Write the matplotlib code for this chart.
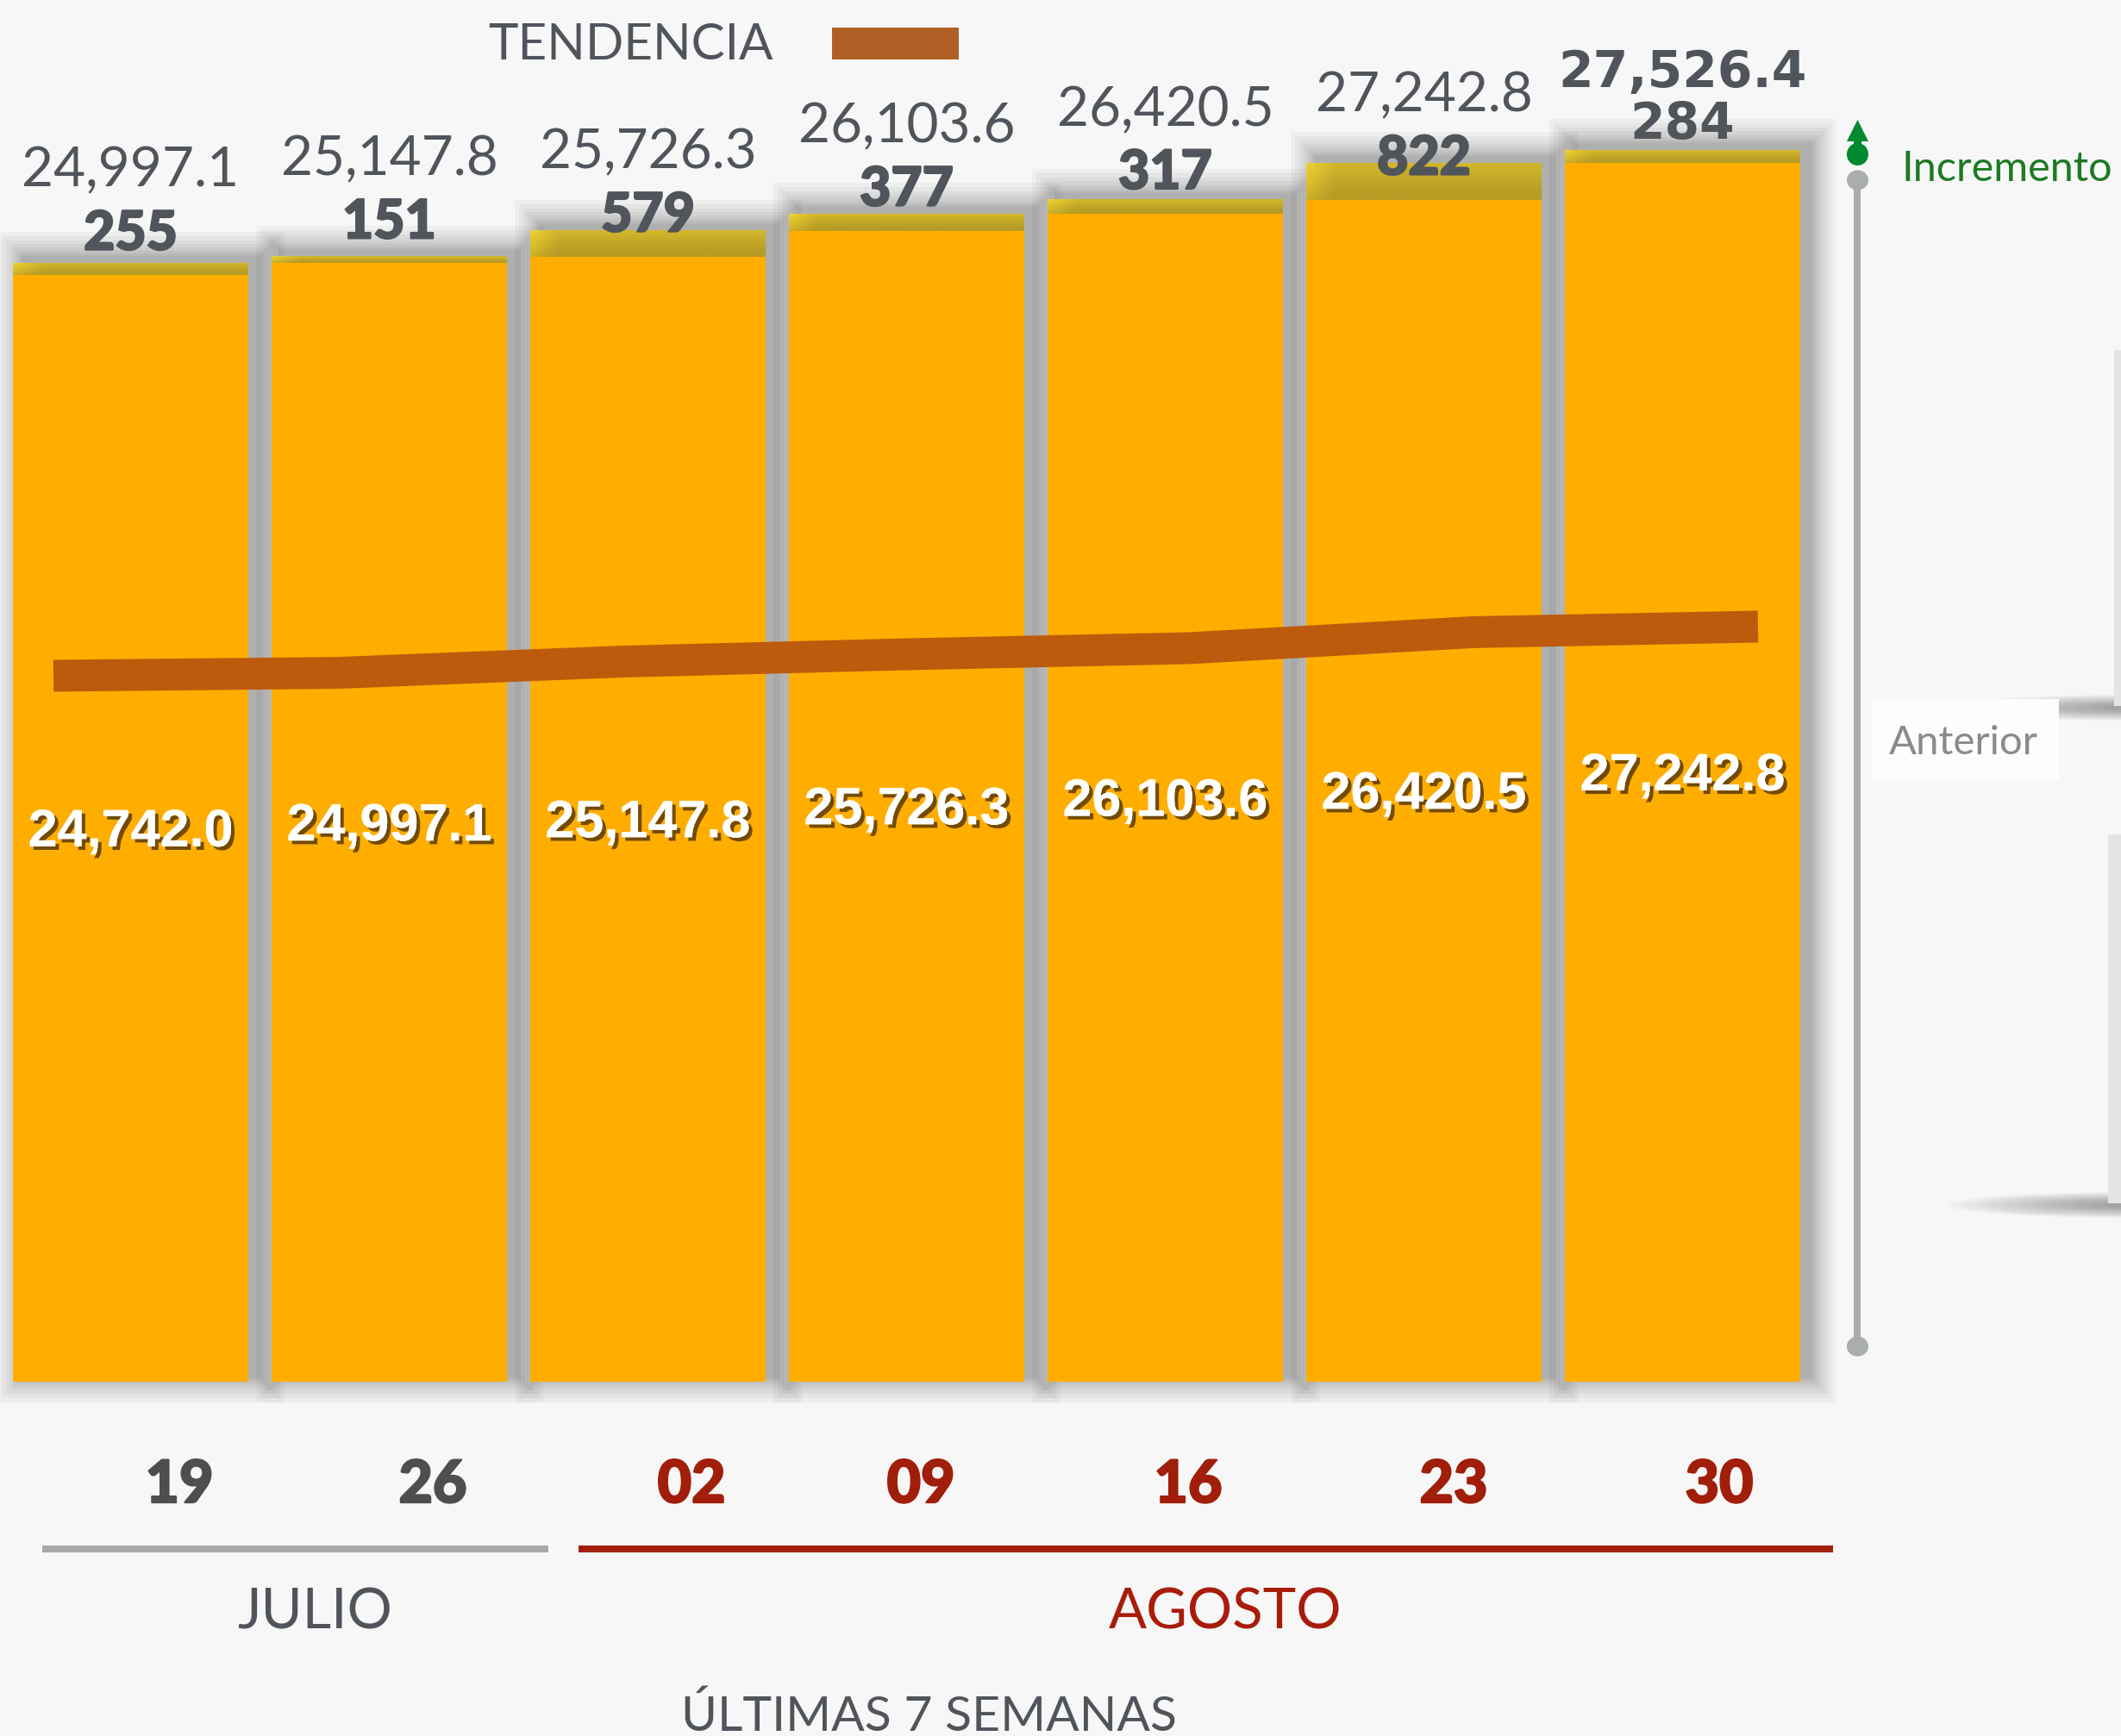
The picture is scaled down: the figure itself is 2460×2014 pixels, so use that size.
import numpy as np
import matplotlib
matplotlib.use("Agg")
import matplotlib.pyplot as plt
from matplotlib.patches import Rectangle, Ellipse, Polygon
import matplotlib.patheffects as pe

# datos
semanas = ["19", "26", "02", "09", "16", "23", "30"]
meses = ["JULIO", "AGOSTO"]
anterior = [24742.0, 24997.1, 25147.8, 25726.3, 26103.6, 26420.5, 27242.8]
incremento = [255, 151, 579, 377, 317, 822, 284]
total = [24997.1, 25147.8, 25726.3, 26103.6, 26420.5, 27242.8, 27526.4]

# colores
fondo = "#F7F7F7"
naranja = "#FFAE00"
tendencia_col = "#BE5A0C"
gris_txt = "#50555C"
rojo = "#A01E0A"

W, H = 2460, 2014
fig = plt.figure(figsize=(W / 100, H / 100), dpi=100, facecolor=fondo)

# escala de las barras: 300 px por semana, 0.05191 px por unidad, base en y=1603 px
PX = 1 / 300
PY = 1 / 0.05191
ax = fig.add_axes([0, 0, 1, 1])
ax.axis("off")
ax.set_facecolor("none")

x = np.arange(len(total))
w = 0.907
ant = np.array(anterior)
tot = np.array(total)

# sombra difusa de cada barra (desplazada a la derecha y un poco hacia arriba)
radios = [2, 4, 6, 9, 12, 16, 20, 25, 30]
for i in x:
    x0 = i - w / 2
    for r in radios:
        ax.add_patch(Rectangle((x0 + (12 - r) * PX, (6 - r) * PY),
                               w + 2 * r * PX, tot[i] + 2 * r * PY,
                               facecolor="black", lw=0, alpha=0.034, zorder=1))

ax.bar(x, ant, width=w, color=naranja, zorder=3)
ax.bar(x, tot - ant, bottom=ant, width=w, color="#D4B42A", zorder=3)

# degradado del incremento
yy = np.linspace(0, 1, 20)[:, None]
xx = np.clip(np.linspace(0, 1, 80)[None, :] / 0.12, 0, 1)
f = np.clip(0.1 + 0.55 * yy + 0.45 * xx, 0, 1)[..., None]
c_top = np.array([245, 214, 52]) / 255
c_dark = np.array([182, 156, 36]) / 255
grad = c_top * (1 - f) + c_dark * f
for i in x:
    ax.imshow(grad, extent=(i - w / 2, i + w / 2, ant[i], tot[i]),
              aspect="auto", origin="upper", zorder=4, interpolation="bilinear")

sombra = [pe.withSimplePatchShadow(offset=(3, -3), shadow_rgbFace="#5a3a00", alpha=0.85),
          pe.Normal()]
grueso = [pe.withStroke(linewidth=1.6, foreground=gris_txt)]
for i in x:
    if i < len(x) - 1:
        ax.annotate(f"{total[i]:,.1f}", (i, ant[i]), xytext=(0, 102),
                    textcoords="offset pixels", ha="center", va="baseline",
                    fontsize=46, family=["Lato", "DejaVu Sans"], fontweight="normal",
                    color=gris_txt, zorder=6)
        ax.annotate(f"{incremento[i]}", (i, ant[i]), xytext=(0, 29),
                    textcoords="offset pixels", ha="center", va="baseline",
                    fontsize=45, family=["Lato", "DejaVu Sans"], fontweight="black",
                    color=gris_txt, zorder=6, path_effects=grueso)
    else:
        ax.annotate(f"{total[i]:,.1f}", (i, ant[i]), xytext=(0, 88),
                    textcoords="offset pixels", ha="center", va="baseline",
                    fontsize=42, family="DejaVu Sans", fontweight="bold",
                    color=gris_txt, zorder=6)
        ax.annotate(f"{incremento[i]}", (i, ant[i]), xytext=(0, 28),
                    textcoords="offset pixels", ha="center", va="baseline",
                    fontsize=42, family="DejaVu Sans", fontweight="bold",
                    color=gris_txt, zorder=6)
    ax.annotate(f"{anterior[i]:,.1f}", (i, ant[i] / 2), xytext=(0, -21),
                textcoords="offset pixels", ha="center", va="baseline",
                fontsize=44, family="Liberation Sans", fontweight="bold",
                color="white", zorder=6, path_effects=sombra)

ax.set_xlim(-151.5 * PX, (W - 151.5) * PX)
ax.set_ylim(-(H - 1603) * PY, 1603 * PY)

# linea de tendencia (escala propia)
ax2 = fig.add_axes([0, 0, 1, 1])
ax2.axis("off")
ax2.set_facecolor("none")
ax2.plot(x, total, color=tendencia_col, lw=26.6, solid_capstyle="butt",
         solid_joinstyle="miter")
ax2.set_xlim(-62 / 329.5, (W - 62) / 329.5)
ax2.set_ylim(24997.1 - (H - 784) / 0.02254, 24997.1 + 784 / 0.02254)

# decoracion en pixeles
ax3 = fig.add_axes([0, 0, 1, 1])
ax3.axis("off")
ax3.set_facecolor("none")
ax3.set_xlim(0, W)
ax3.set_ylim(H, 0)

fam = ["Lato", "DejaVu Sans"]
ax3.text(731, 69, "TENDENCIA", ha="center", va="baseline", fontsize=42,
         family=fam, color=gris_txt)
ax3.add_patch(Rectangle((965, 32), 147, 37, color="#B06025", lw=0))

dias_x = [208, 502, 802, 1068, 1378, 1686, 1994]
for i, (d, px) in enumerate(zip(semanas, dias_x)):
    c = "#4E4E4E" if i < 2 else rojo
    ax3.text(px, 1743, d, ha="center", va="baseline", fontsize=49, family=fam,
             fontweight="black", color=c,
             path_effects=[pe.withStroke(linewidth=1.6, foreground=c)])

ax3.plot([49, 636], [1797, 1797], color="#A9A9A9", lw=5.8, solid_capstyle="butt")
ax3.plot([671, 2126], [1797, 1797], color="#A3200B", lw=5.8, solid_capstyle="butt")
ax3.text(365, 1889, meses[0], ha="center", va="baseline", fontsize=47,
         family=fam, color=gris_txt)
ax3.text(1421, 1889, meses[1], ha="center", va="baseline", fontsize=47,
         family=fam, color="#A81C0A")
ax3.text(1077, 2008, "ÚLTIMAS 7 SEMANAS", ha="center", va="baseline", fontsize=41,
         family=fam, color=gris_txt)

# escala lateral
ax3.plot([2154, 2154], [209, 1562], color="#A9ADAC", lw=5.8, solid_capstyle="butt")
for yy_ in (209, 1562):
    ax3.add_patch(Ellipse((2154.5, yy_), 25, 23, color="#A9ADAC", lw=0))
ax3.add_patch(Rectangle((2150, 158), 9, 14, color="#00892F", lw=0))
ax3.add_patch(Ellipse((2154.5, 179), 25, 26, color="#00892F", lw=0))
ax3.add_patch(Polygon([(2142, 164), (2167, 164), (2154.5, 139)], color="#00892F", lw=0))
ax3.text(2206, 210, "Incremento", ha="left", va="baseline", fontsize=35,
         family=fam, color="#1D7A23")

# paneles recortados a la derecha
for (px, py, pw, ph) in [(2452, 406, 20, 413), (2445, 968, 30, 428)]:
    for k in range(12):
        ax3.add_patch(Ellipse((2470, py + ph + 2), 420 * (1 - k / 13), 30 * (1 - k / 14),
                              color="black", alpha=0.03, lw=0))
    ax3.add_patch(Rectangle((px, py), pw, ph, facecolor="#E3E4E6", lw=0))
ax3.add_patch(Rectangle((2172, 811), 216, 94, color="#FDFDFD", lw=0))
ax3.text(2191, 875, "Anterior", ha="left", va="baseline", fontsize=34,
         family=fam, color="#8A8A8A")

fig.savefig("out.png", dpi=100, facecolor=fondo)
